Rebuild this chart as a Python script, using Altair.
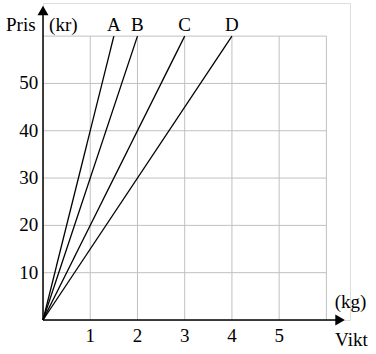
import altair as alt
import pandas as pd

# Data
line_names = ["A", "B", "C", "D"]
line_end_x = [1.5, 2, 3, 4]     # kg at 60 kr
line_end_y = [60, 60, 60, 60]
x_ticks = [1, 2, 3, 4, 5]
y_ticks = [10, 20, 30, 40, 50]
grid_x = [1, 2, 3, 4, 5, 6]
grid_y = [10, 20, 30, 40, 50, 60]

FONT = "Liberation Serif"
FS = 19
GRID = "#c0c0c0"

xs = alt.Scale(domain=[0, 6.5], nice=False, zero=False)
ys = alt.Scale(domain=[0, 67], nice=False, zero=False)


def X(f):
    return alt.X(f, scale=xs, axis=None)


def Y(f):
    return alt.Y(f, scale=ys, axis=None)


rows = []
for n, ex, ey in zip(line_names, line_end_x, line_end_y):
    rows.append({"name": n, "x": 0, "y": 0, "o": 0})
    rows.append({"name": n, "x": ex, "y": ey, "o": 1})
lines_df = pd.DataFrame(rows)

gx = pd.DataFrame({"x": grid_x, "y": 0, "y2": 60})
gy = pd.DataFrame({"y": grid_y, "x": 0, "x2": 6})

vgrid = alt.Chart(gx).mark_rule(color=GRID, strokeWidth=1).encode(
    x=X("x:Q"), y=Y("y:Q"), y2="y2:Q"
)
hgrid = alt.Chart(gy).mark_rule(color=GRID, strokeWidth=1).encode(
    x=X("x:Q"), x2="x2:Q", y=Y("y:Q")
)

axes_df = pd.DataFrame({"x": [0, 0], "y": [0, 0], "x2": [6.3, 0], "y2": [0, 65.5]})
axes = alt.Chart(axes_df).mark_rule(color="black", strokeWidth=1.5).encode(
    x=X("x:Q"), y=Y("y:Q"), x2="x2:Q", y2="y2:Q"
)
arrows_df = pd.DataFrame({"x": [0, 6.29], "y": [65.4, 0], "shape": ["triangle-up", "triangle-right"]})
arrows = alt.Chart(arrows_df).mark_point(filled=True, color="black", opacity=1, size=120).encode(
    x=X("x:Q"), y=Y("y:Q"),
    shape=alt.Shape("shape:N", scale=None, legend=None),
)

lines = alt.Chart(lines_df).mark_line(color="black", strokeWidth=1.3).encode(
    x=X("x:Q"), y=Y("y:Q"), detail="name:N", order="o:Q"
)

xt_df = pd.DataFrame({"x": x_ticks, "y": -3.3, "t": [str(v) for v in x_ticks]})
xt = alt.Chart(xt_df).mark_text(font=FONT, fontSize=FS, color="black", baseline="middle").encode(
    x=X("x:Q"), y=Y("y:Q"), text="t:N"
)
yt_df = pd.DataFrame({"x": -0.1, "y": y_ticks, "t": [str(v) for v in y_ticks]})
yt = alt.Chart(yt_df).mark_text(font=FONT, fontSize=FS, color="black", baseline="middle",
                                align="right").encode(
    x=X("x:Q"), y=Y("y:Q"), text="t:N"
)

lab_df = pd.DataFrame({"x": line_end_x, "y": [62.3] * 4, "t": line_names})
labs = alt.Chart(lab_df).mark_text(font=FONT, fontSize=FS, color="black", baseline="middle").encode(
    x=X("x:Q"), y=Y("y:Q"), text="t:N"
)

ann_df = pd.DataFrame({
    "x": [-0.47, 0.43, 6.51, 6.53],
    "y": [62.3, 62.3, 3.8, -4.2],
    "t": ["Pris", "(kr)", "(kg)", "Vikt"],
})
ann = alt.Chart(ann_df).mark_text(font=FONT, fontSize=FS, color="black", baseline="middle").encode(
    x=X("x:Q"), y=Y("y:Q"), text="t:N"
)

chart = alt.layer(vgrid, hgrid, lines, axes, arrows, xt, yt, labs, ann).properties(
    width=307, height=317,
    autosize=alt.AutoSizeParams(type="none"),
    padding={"left": 43, "top": 3, "right": 26, "bottom": 34},
).configure_view(stroke=None).configure(background="white")

chart.save("out.html", embed_options={"renderer": "svg", "actions": False})
